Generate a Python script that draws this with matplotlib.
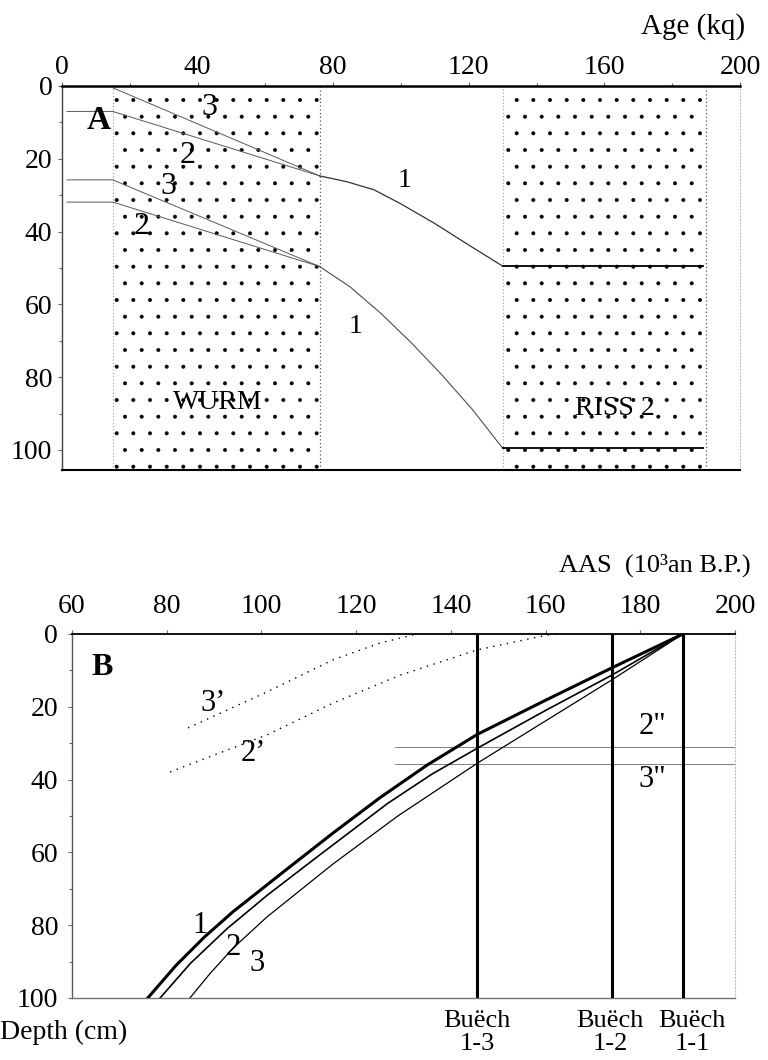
import matplotlib
matplotlib.use('Agg')
import matplotlib.pyplot as plt

plt.rcParams['font.family'] = ['Liberation Serif', 'DejaVu Serif']
plt.rcParams['hatch.linewidth'] = 0.4

# ---- panel A : age (ka) vs depth (cm)
wurm = (15, 76)
riss2 = (130, 190)

a_up3_x = [15, 76]
a_up3_y = [0.5, 24.7]
a_up2_x = [1.5, 15, 76]
a_up2_y = [7, 7, 24.7]
a_up1_x = [76, 84, 92, 100, 110, 120, 130]
a_up1_y = [24.7, 26.3, 28.5, 32.4, 37.8, 43.7, 49.5]

a_lo3_x = [1.5, 15, 76]
a_lo3_y = [25.8, 25.8, 49.6]
a_lo2_x = [1.5, 15, 76]
a_lo2_y = [31.9, 31.9, 49.6]
a_lo1_x = [76, 85, 94, 103, 112, 121, 130]
a_lo1_y = [49.6, 55.2, 62.4, 70.5, 79.3, 88.8, 99.5]

a_flat_x = [130, 189]
a_flat_depths = [49.5, 99.5]

# ---- panel B : AAS age (10^3 an B.P.) vs depth (cm)
b_c1_x = [76.0, 82, 88, 94.0, 104.6, 115.1, 125.0, 135.0, 145.7, 160, 174.0, 189]
b_c1_y = [100, 91, 83.2, 76.3, 65.4, 54.7, 45.0, 36.0, 27.5, 18.2, 9.3, 0]
b_c2_x = [78.6, 85, 92.7, 101.2, 111.7, 126.7, 136.0, 145.7, 160, 174.0, 189]
b_c2_y = [100, 90.5, 81.0, 71.8, 61.3, 46.5, 38.5, 31.3, 21.0, 11.3, 0]
b_c3_x = [84.9, 89, 94.0, 101.2, 115.1, 128.8, 145.7, 174.0, 189]
b_c3_y = [100, 93.5, 86.3, 77.7, 63.2, 50.0, 35.4, 12.6, 0]

b_p3_x = [84.5, 101.2, 115.1, 125.0, 132.8]
b_p3_y = [25.8, 15.9, 7.1, 2.5, 0]
b_p2_x = [80.7, 101.2, 115.1, 129.3, 145.5, 160.3, 163]
b_p2_y = [37.9, 27.7, 19.0, 11.3, 4.4, 0.3, 0]

b_hlines = [31.0, 35.7]
b_hline_x = (128.2, 200)

buech_x = [145.6, 174.0, 189.0]
buech_names = ['Buëch\n1-3', 'Buëch\n1-2', 'Buëch\n1-1']
buech_label_x = [145.6, 173.6, 191.0]

fig = plt.figure(figsize=(7.68, 10.6), dpi=100)

# ================= A =================
axA = fig.add_axes([0.0807, 0.5566, 0.8828, 0.3623])
axA.set_xlim(0, 200)
axA.set_ylim(105.5, 0)

for span in (wurm, riss2):
    axA.axvspan(span[0], span[1], facecolor='none', edgecolor='black',
                hatch='.', linewidth=0)
    axA.axvline(span[0], color='0.6', lw=0.8, ls=(0, (1, 2)))
    axA.axvline(span[1], color='0.35', lw=0.9, ls=(0, (1, 2)))

axA.plot(a_up3_x, a_up3_y, color='0.35', lw=0.7)
axA.plot(a_up2_x, a_up2_y, color='0.35', lw=0.7)
axA.plot(a_up1_x, a_up1_y, color='0.2', lw=0.9)
axA.plot(a_lo3_x, a_lo3_y, color='0.35', lw=0.7)
axA.plot(a_lo2_x, a_lo2_y, color='0.35', lw=0.7)
axA.plot(a_lo1_x, a_lo1_y, color='0.3', lw=0.8)
for d in a_flat_depths:
    axA.plot(a_flat_x, [d, d], color='black', lw=1.3)

axA.text(10.8, 9.4, 'A', fontsize=24, fontweight='bold', ha='center', va='center')
axA.text(43.5, 6, '3', fontsize=23, ha='center', va='center')
axA.text(37, 19, '2', fontsize=23, ha='center', va='center')
axA.text(31.5, 27.6, '3', fontsize=23, ha='center', va='center')
axA.text(23.4, 38.7, '2', fontsize=23, ha='center', va='center')
axA.text(101, 26, '1', fontsize=20, ha='center', va='center')
axA.text(86.5, 66, '1', fontsize=20, ha='center', va='center')
axA.text(46, 87, 'WURM', fontsize=20, ha='center', va='center')
axA.text(163, 88.7, 'RISS 2', fontsize=20, ha='center', va='center')

axA.xaxis.tick_top()
axA.set_xticks(range(0, 201, 40))
axA.set_xticks(range(20, 201, 40), minor=True)
axA.set_yticks(range(0, 101, 20))
axA.set_yticks(range(10, 101, 20), minor=True)
axA.tick_params(axis='both', which='both', labelsize=20, direction='out',
                length=3, width=0.8, color='0.4', pad=4)
axA.tick_params(axis='x', pad=1.5)
axA.tick_params(axis='both', which='minor', length=2)

axA.spines['top'].set_linewidth(1.8)
axA.spines['left'].set_linewidth(1.0)
axA.spines['left'].set_color('0.25')
axA.spines['bottom'].set_linewidth(1.5)
axA.spines['right'].set_color('0.75')
axA.spines['right'].set_linewidth(0.8)
axA.spines['right'].set_linestyle((0, (1, 2)))

fig.text(0.97, 1 - 27 / 1060, 'Age (kq)', fontsize=21, ha='right', va='center')

# ================= B =================
axB = fig.add_axes([0.09375, 0.0585, 0.8633, 0.3434])
axB.set_xlim(60, 200)
axB.set_ylim(100, 0)

for d in b_hlines:
    axB.plot(b_hline_x, [d, d], color='0.5', lw=0.7)

dots = (0, (1, 4))
axB.plot(b_p3_x, b_p3_y, color='black', lw=1.0, ls=dots)
axB.plot(b_p2_x, b_p2_y, color='black', lw=1.0, ls=dots)

axB.plot(b_c1_x, b_c1_y, color='black', lw=2.2)
axB.plot(b_c2_x, b_c2_y, color='black', lw=1.2)
axB.plot(b_c3_x, b_c3_y, color='black', lw=0.9)

for x in buech_x:
    axB.plot([x, x], [0, 100], color='black', lw=2.2)
for x, name in zip(buech_label_x, buech_names):
    axB.text(x, 109.5, name, fontsize=19, ha='center', va='center',
             linespacing=1.05, clip_on=False)

axB.text(66.3, 9.3, 'B', fontsize=23, fontweight='bold', ha='center', va='center')
axB.text(89.8, 19, '3\u2019', fontsize=22, ha='center', va='center')
axB.text(98.2, 32.7, '2\u2019', fontsize=22, ha='center', va='center')
axB.text(182.5, 25.5, '2"', fontsize=22, ha='center', va='center')
axB.text(182.5, 40.1, '3"', fontsize=22, ha='center', va='center')
axB.text(87, 80, '1', fontsize=22, ha='center', va='center')
axB.text(94, 86, '2', fontsize=22, ha='center', va='center')
axB.text(99, 90.4, '3', fontsize=22, ha='center', va='center')

axB.xaxis.tick_top()
axB.set_xticks(range(60, 201, 20))
axB.set_yticks(range(0, 101, 20))
axB.set_yticks(range(10, 101, 20), minor=True)
axB.tick_params(axis='both', which='both', labelsize=20, direction='out',
                length=3, width=0.8, color='0.4')
axB.tick_params(axis='x', pad=8)
axB.tick_params(axis='y', pad=7)
axB.tick_params(axis='both', which='minor', length=2)

axB.spines['top'].set_linewidth(1.3)
axB.spines['left'].set_linewidth(1.0)
axB.spines['left'].set_color('0.35')
axB.spines['bottom'].set_linewidth(1.0)
axB.spines['bottom'].set_color('0.45')
axB.spines['right'].set_color('0.75')
axB.spines['right'].set_linewidth(0.8)
axB.spines['right'].set_linestyle((0, (1, 2)))

fig.text(0.977, 1 - 565 / 1060, 'AAS  (10\u00b3an B.P.)', fontsize=19,
         ha='right', va='center')
fig.text(0.0, 1 - 1032 / 1060, 'Depth (cm)', fontsize=20, ha='left', va='center')

fig.savefig('out.png', dpi=100)
